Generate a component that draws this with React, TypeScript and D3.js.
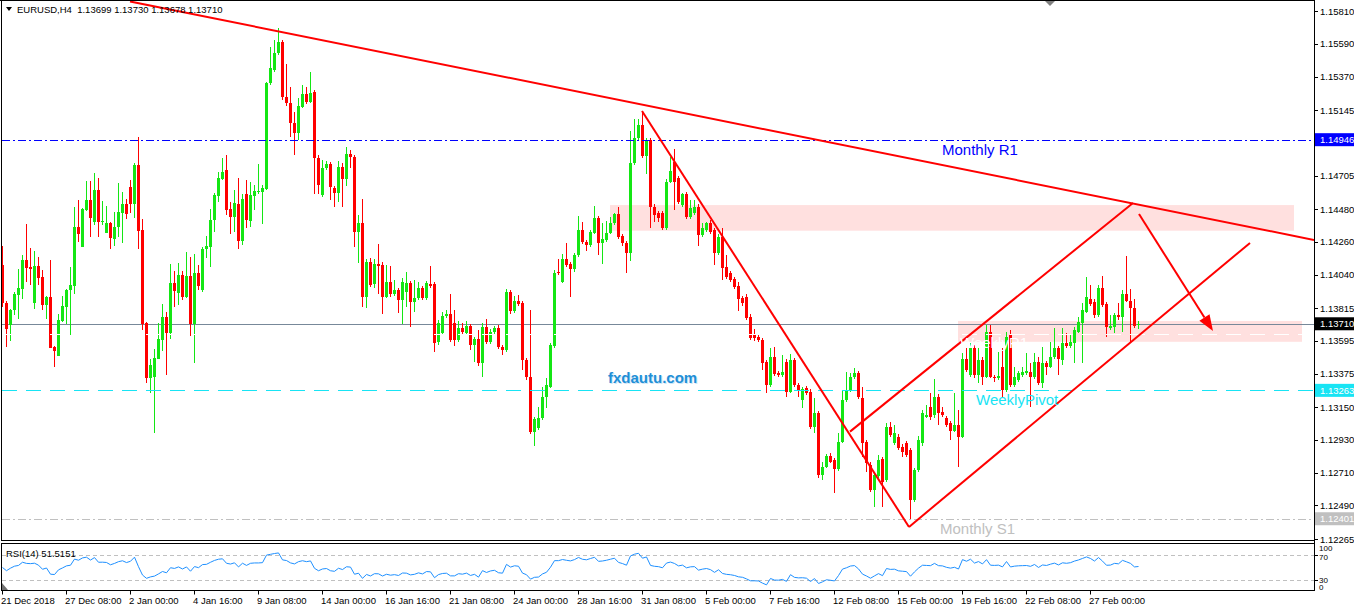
import React from "react";
import * as d3 from "d3";

// EURUSD H4, 21 Dec 2018 .. 27 Feb 2019
const opens = [
  1.14104, 1.13852, 1.137, 1.13805, 1.13904, 1.13946, 1.14138, 1.14093, 1.13852, 1.14098,
  1.14027, 1.13836, 1.13892, 1.13554, 1.13496, 1.13729, 1.13825, 1.13937, 1.13966, 1.1436,
  1.14228, 1.14474, 1.14541, 1.14395, 1.14608, 1.14394, 1.1432, 1.14387, 1.14281, 1.1436,
  1.14456, 1.14514, 1.14629, 1.14516, 1.14776, 1.1434, 1.13716, 1.13349, 1.13353, 1.13474,
  1.13604, 1.13756, 1.13648, 1.13984, 1.13915, 1.14038, 1.13892, 1.14031, 1.13711, 1.14051,
  1.13939, 1.14211, 1.14228, 1.14407, 1.1457, 1.14684, 1.14743, 1.14481, 1.14427, 1.14514,
  1.14268, 1.14582, 1.14402, 1.1457, 1.14595, 1.14595, 1.14617, 1.15327, 1.15414, 1.15528,
  1.15604, 1.15235, 1.15195, 1.15056, 1.14993, 1.15168, 1.15251, 1.15201, 1.15268, 1.14821,
  1.14575, 1.14754, 1.14783, 1.14622, 1.1459, 1.14765, 1.1468, 1.1485, 1.14828, 1.14328,
  1.14385, 1.13892, 1.14123, 1.13975, 1.14111, 1.14105, 1.13892, 1.13993, 1.13908, 1.13937,
  1.1387, 1.13926, 1.13982, 1.13858, 1.13881, 1.13948, 1.13881, 1.13977, 1.13977, 1.1359,
  1.13646, 1.13762, 1.13774, 1.13713, 1.13601, 1.13684, 1.13646, 1.13695, 1.13568, 1.13606,
  1.13445, 1.13691, 1.1359, 1.13653, 1.1368, 1.13556, 1.13534, 1.13926, 1.13796, 1.13863,
  1.13848, 1.13467, 1.13355, 1.12986, 1.13012, 1.13076, 1.1322, 1.13288, 1.13561, 1.1406,
  1.13993, 1.14143, 1.1411, 1.14076, 1.14172, 1.1434, 1.14261, 1.14239, 1.14322, 1.14418,
  1.14255, 1.14273, 1.14322, 1.14385, 1.14447, 1.143, 1.1425, 1.14187, 1.14788, 1.14955,
  1.15045, 1.14837, 1.14944, 1.14496, 1.14452, 1.14452, 1.14351, 1.14664, 1.14798, 1.14687,
  1.14507, 1.14579, 1.14429, 1.14452, 1.14496, 1.14306, 1.1434, 1.14385, 1.1434, 1.14183,
  1.14295, 1.14093, 1.14049, 1.14011, 1.13966, 1.13881, 1.13892, 1.13758, 1.13635, 1.13619,
  1.13601, 1.13452, 1.13299, 1.13486, 1.13378, 1.13366, 1.13456, 1.13254, 1.13467, 1.13299,
  1.13198, 1.13277, 1.13254, 1.13019, 1.13109, 1.12695, 1.12751, 1.12823, 1.12796, 1.12733,
  1.12918, 1.13198, 1.13266, 1.13351, 1.13378, 1.1321, 1.12918, 1.12762, 1.12594, 1.12688,
  1.128, 1.12661, 1.13019, 1.12908, 1.12952, 1.12885, 1.12908, 1.12863, 1.12527, 1.12728,
  1.12908, 1.13086, 1.13153, 1.13098, 1.1322, 1.1312, 1.13076, 1.13042, 1.12992, 1.1303,
  1.12952, 1.13473, 1.13366, 1.13545, 1.13366, 1.13467, 1.13355, 1.13657, 1.13355, 1.13344,
  1.13422, 1.13266, 1.13635, 1.13299, 1.13333, 1.13366, 1.13378, 1.13388, 1.13355, 1.13456,
  1.13311, 1.13445, 1.13422, 1.13485, 1.13545, 1.13467, 1.13579, 1.13561, 1.13579, 1.13657,
  1.13713, 1.13791, 1.13875, 1.13858, 1.13769, 1.13948, 1.13843, 1.1368, 1.13686, 1.13769,
  1.13754, 1.1391, 1.13865, 1.13814, 1.13699,
];

const highs = [
  1.14233, 1.13863, 1.13812, 1.13924, 1.14078, 1.14172, 1.1438, 1.1422, 1.14199, 1.14159,
  1.14071, 1.13897, 1.14138, 1.13561, 1.13776, 1.13899, 1.13944, 1.14091, 1.14494, 1.14541,
  1.14487, 1.14669, 1.14669, 1.14723, 1.14689, 1.14535, 1.14501, 1.14394, 1.14463, 1.14655,
  1.14595, 1.14548, 1.14676, 1.1479, 1.14966, 1.14414, 1.13722, 1.13476, 1.13541, 1.13716,
  1.13843, 1.13791, 1.14111, 1.14064, 1.14118, 1.14064, 1.14192, 1.14159, 1.14179, 1.14105,
  1.14226, 1.143, 1.14481, 1.1459, 1.14729, 1.14823, 1.14843, 1.14528, 1.14608, 1.14689,
  1.14582, 1.14676, 1.14662, 1.14642, 1.14785, 1.14642, 1.15334, 1.1557, 1.15615, 1.15694,
  1.15615, 1.15454, 1.15302, 1.15134, 1.15224, 1.15313, 1.15298, 1.15403, 1.1528, 1.14843,
  1.1481, 1.14805, 1.14796, 1.14635, 1.14803, 1.1479, 1.14899, 1.14877, 1.14843, 1.14441,
  1.14546, 1.14143, 1.1415, 1.14143, 1.14246, 1.14125, 1.14105, 1.14098, 1.14002, 1.1395,
  1.14016, 1.14056, 1.13997, 1.14004, 1.13993, 1.13964, 1.14, 1.141, 1.1399, 1.13736,
  1.13787, 1.13803, 1.1391, 1.13803, 1.13731, 1.13718, 1.13729, 1.13709, 1.13621, 1.13668,
  1.13718, 1.13741, 1.13673, 1.13695, 1.13702, 1.13568, 1.13944, 1.1394, 1.13897, 1.13904,
  1.13863, 1.1348, 1.13803, 1.13084, 1.13153, 1.13288, 1.13344, 1.13581, 1.14071, 1.14143,
  1.14179, 1.1425, 1.14125, 1.14185, 1.14434, 1.14395, 1.14273, 1.1434, 1.14501, 1.14434,
  1.14385, 1.14402, 1.14425, 1.14454, 1.14492, 1.14313, 1.14266, 1.15006, 1.15085, 1.15085,
  1.15134, 1.14957, 1.14957, 1.14514, 1.14467, 1.14467, 1.14682, 1.14832, 1.14882, 1.14702,
  1.14586, 1.14595, 1.14541, 1.14541, 1.14514, 1.14389, 1.14395, 1.14407, 1.14353, 1.14313,
  1.14351, 1.14172, 1.14064, 1.14024, 1.13993, 1.13897, 1.1391, 1.13776, 1.13673, 1.13635,
  1.13615, 1.13467, 1.13545, 1.13556, 1.13393, 1.13501, 1.13474, 1.13507, 1.1348, 1.13313,
  1.13286, 1.13293, 1.13272, 1.1321, 1.13125, 1.12784, 1.12836, 1.12845, 1.12809, 1.12975,
  1.13266, 1.13388, 1.13378, 1.13411, 1.13393, 1.13288, 1.1293, 1.12782, 1.12708, 1.12829,
  1.12816, 1.13042, 1.13053, 1.1303, 1.1297, 1.12903, 1.12923, 1.12876, 1.12742, 1.12957,
  1.13131, 1.13165, 1.13246, 1.13337, 1.13239, 1.13153, 1.13091, 1.13057, 1.13243, 1.13131,
  1.13512, 1.13545, 1.13579, 1.13568, 1.13556, 1.13487, 1.13702, 1.13702, 1.13366, 1.1352,
  1.13545, 1.13657, 1.13668, 1.13422, 1.13393, 1.13422, 1.13512, 1.13445, 1.13512, 1.13489,
  1.13556, 1.1346, 1.1359, 1.1368, 1.13561, 1.1368, 1.13646, 1.13635, 1.13689, 1.13757,
  1.13848, 1.14026, 1.1397, 1.13877, 1.1397, 1.14031, 1.13856, 1.13769, 1.13783, 1.13848,
  1.13937, 1.14168, 1.13946, 1.13875, 1.1373,
];

const lows = [
  1.13823, 1.13554, 1.13596, 1.1377, 1.13743, 1.13879, 1.1399, 1.1397, 1.1381, 1.1397,
  1.13803, 1.13743, 1.13548, 1.1342, 1.13494, 1.13722, 1.13711, 1.13635, 1.1391, 1.14259,
  1.14226, 1.14467, 1.14295, 1.14373, 1.14295, 1.14373, 1.14318, 1.14212, 1.14234, 1.14295,
  1.1425, 1.14414, 1.14454, 1.14422, 1.14214, 1.13668, 1.13311, 1.13244, 1.12975, 1.13474,
  1.13528, 1.13366, 1.13608, 1.13825, 1.13836, 1.1387, 1.13883, 1.1363, 1.13449, 1.13937,
  1.13924, 1.14152, 1.14091, 1.14328, 1.14528, 1.14676, 1.1444, 1.14315, 1.14326, 1.14214,
  1.14239, 1.14353, 1.14362, 1.14474, 1.14582, 1.1438, 1.14608, 1.15313, 1.15401, 1.15515,
  1.15213, 1.15173, 1.14966, 1.14843, 1.14944, 1.15159, 1.15186, 1.15193, 1.14579, 1.14579,
  1.14561, 1.14743, 1.14541, 1.14496, 1.1453, 1.14496, 1.14637, 1.14758, 1.14228, 1.14116,
  1.13825, 1.13814, 1.13959, 1.1395, 1.1391, 1.13774, 1.13883, 1.1389, 1.13897, 1.13785,
  1.13707, 1.13825, 1.1369, 1.13792, 1.1387, 1.1387, 1.1387, 1.1395, 1.13523, 1.13568,
  1.13635, 1.13749, 1.13588, 1.13561, 1.13588, 1.13641, 1.13635, 1.13534, 1.13456, 1.13427,
  1.13355, 1.13575, 1.13575, 1.13641, 1.13541, 1.13501, 1.13521, 1.13776, 1.13783, 1.1383,
  1.134, 1.13333, 1.12971, 1.12888, 1.12997, 1.13064, 1.13142, 1.13279, 1.13548, 1.14038,
  1.13984, 1.14091, 1.13892, 1.1406, 1.14159, 1.14246, 1.14201, 1.14226, 1.14313, 1.14172,
  1.1411, 1.14259, 1.14313, 1.14373, 1.14279, 1.14233, 1.14053, 1.14134, 1.14776, 1.14944,
  1.14823, 1.14716, 1.14351, 1.14395, 1.14393, 1.1434, 1.1434, 1.14655, 1.14474, 1.14514,
  1.14494, 1.14414, 1.14414, 1.1444, 1.14234, 1.14293, 1.14326, 1.14313, 1.14105, 1.14172,
  1.14004, 1.14011, 1.1399, 1.13944, 1.13798, 1.1383, 1.13736, 1.13601, 1.13594, 1.13588,
  1.134, 1.13244, 1.13286, 1.1336, 1.13353, 1.13353, 1.13221, 1.13244, 1.13286, 1.13221,
  1.13142, 1.13232, 1.13004, 1.12977, 1.12675, 1.12661, 1.12742, 1.12775, 1.12572, 1.12722,
  1.1291, 1.13185, 1.13252, 1.13339, 1.13205, 1.12817, 1.12717, 1.12581, 1.12482, 1.12675,
  1.12482, 1.12648, 1.1295, 1.12896, 1.12863, 1.12818, 1.12816, 1.12393, 1.12514, 1.12715,
  1.1289, 1.13078, 1.13064, 1.13078, 1.1303, 1.13084, 1.13017, 1.1293, 1.12983, 1.12751,
  1.12943, 1.13386, 1.13353, 1.13346, 1.13311, 1.13299, 1.13346, 1.13346, 1.13321, 1.13333,
  1.13221, 1.13252, 1.13286, 1.13286, 1.13319, 1.13353, 1.13366, 1.13153, 1.13339, 1.13299,
  1.13277, 1.13366, 1.13413, 1.13474, 1.13366, 1.13433, 1.13548, 1.13548, 1.13445, 1.13648,
  1.13445, 1.13783, 1.1383, 1.13747, 1.13756, 1.13823, 1.13619, 1.13668, 1.13646, 1.13736,
  1.13657, 1.13856, 1.1359, 1.13682, 1.13678,
];

const closes = [
  1.13852, 1.13674, 1.13803, 1.1391, 1.1395, 1.14138, 1.14086, 1.14076, 1.14098, 1.1402,
  1.13836, 1.13892, 1.1355, 1.1353, 1.13736, 1.1383, 1.13937, 1.13971, 1.1436, 1.14311,
  1.14483, 1.14541, 1.14422, 1.14608, 1.14395, 1.144, 1.14387, 1.14284, 1.1436, 1.14461,
  1.14514, 1.14445, 1.14516, 1.14776, 1.14335, 1.13707, 1.13349, 1.13434, 1.1348, 1.13608,
  1.13756, 1.13648, 1.13984, 1.13932, 1.14038, 1.13892, 1.14031, 1.13711, 1.14049, 1.13966,
  1.14213, 1.14233, 1.14407, 1.14575, 1.14689, 1.14729, 1.14474, 1.14427, 1.14521, 1.14268,
  1.14548, 1.14407, 1.14575, 1.14602, 1.14602, 1.14622, 1.15325, 1.15427, 1.15528, 1.15604,
  1.15235, 1.15195, 1.15056, 1.14993, 1.15172, 1.15251, 1.15201, 1.15257, 1.14821, 1.14642,
  1.14756, 1.14783, 1.14631, 1.1459, 1.14765, 1.14682, 1.14848, 1.14828, 1.14328, 1.14385,
  1.13892, 1.14123, 1.1397, 1.14111, 1.141, 1.13892, 1.13993, 1.13908, 1.13937, 1.1387,
  1.13993, 1.13982, 1.13858, 1.13885, 1.13948, 1.13881, 1.13982, 1.13966, 1.13579, 1.13713,
  1.13762, 1.13774, 1.13601, 1.13601, 1.13684, 1.13657, 1.13695, 1.13568, 1.13606, 1.13445,
  1.13691, 1.1359, 1.13653, 1.1368, 1.13556, 1.13534, 1.13926, 1.13796, 1.13863, 1.13843,
  1.13467, 1.13355, 1.12986, 1.13069, 1.1308, 1.1322, 1.13299, 1.13568, 1.14049, 1.14049,
  1.14143, 1.14105, 1.14076, 1.14172, 1.1434, 1.14261, 1.14239, 1.14328, 1.14418, 1.14255,
  1.14277, 1.14322, 1.14385, 1.14447, 1.14295, 1.1425, 1.14187, 1.14788, 1.14955, 1.15045,
  1.14837, 1.14944, 1.14496, 1.1444, 1.14418, 1.14351, 1.14664, 1.14738, 1.14664, 1.1453,
  1.14579, 1.14429, 1.14485, 1.14496, 1.14306, 1.14355, 1.14385, 1.14328, 1.14183, 1.14295,
  1.14083, 1.14027, 1.14004, 1.13959, 1.13877, 1.13848, 1.13747, 1.13613, 1.13613, 1.13601,
  1.13445, 1.13299, 1.13486, 1.13373, 1.13366, 1.13388, 1.13254, 1.13467, 1.13299, 1.13266,
  1.1327, 1.13243, 1.13019, 1.13109, 1.12695, 1.12751, 1.12823, 1.12784, 1.12733, 1.12918,
  1.13198, 1.13266, 1.13355, 1.13378, 1.13221, 1.12908, 1.12773, 1.12594, 1.12695, 1.12796,
  1.1265, 1.13019, 1.12963, 1.12975, 1.12874, 1.12851, 1.12829, 1.12527, 1.12728, 1.1293,
  1.13109, 1.13098, 1.13086, 1.1322, 1.13109, 1.13098, 1.1303, 1.12992, 1.1303, 1.12952,
  1.13473, 1.134, 1.13545, 1.13366, 1.13467, 1.13355, 1.13657, 1.13355, 1.13344, 1.1336,
  1.13266, 1.13623, 1.13299, 1.13355, 1.13378, 1.13388, 1.13395, 1.13355, 1.13456, 1.13311,
  1.13445, 1.13422, 1.13489, 1.13545, 1.13472, 1.13579, 1.13561, 1.1359, 1.13668, 1.13724,
  1.13803, 1.13888, 1.13843, 1.13769, 1.13948, 1.13836, 1.13686, 1.13695, 1.13769, 1.13754,
  1.1391, 1.13865, 1.13814, 1.13695, 1.1371,
];

const timeLabels = [
  "21 Dec 2018", "27 Dec 08:00", "2 Jan 00:00", "4 Jan 16:00", "9 Jan 08:00", "14 Jan 00:00",
  "16 Jan 16:00", "21 Jan 08:00", "24 Jan 00:00", "28 Jan 16:00", "31 Jan 08:00", "5 Feb 00:00",
  "7 Feb 16:00", "12 Feb 08:00", "15 Feb 00:00", "19 Feb 16:00", "22 Feb 08:00", "27 Feb 00:00",
];
const barsPerLabel = 16;

// 1.14925 sits under the R1 price tag, so only its tick is drawn
const priceTicks = [
  1.1581, 1.1559, 1.1537, 1.15145, 1.14925, 1.14705, 1.1448, 1.1426, 1.1404,
  1.13815, 1.13595, 1.13375, 1.1315, 1.1293, 1.1271, 1.1249, 1.12265,
];

// levels drawn on the chart
const monthlyR1 = 1.14946;
const weeklyR1 = 1.1364;
const weeklyPivot = 1.13263;
const monthlyS1 = 1.12401;
const lastPrice = 1.1371;

// trend lines as [bar index, price] pairs
const trendLines: [number, number][][] = [
  [[32, 1.15874], [328, 1.14273]],
  [[160, 1.15139], [226.75, 1.12346]],
  [[226.75, 1.12346], [312, 1.14253]],
  [[212, 1.12986], [282.75, 1.14521]],
];
const arrowLine: [number, number][] = [[284.25, 1.14447], [302.75, 1.13661]];

const zones = [
  { from: 152, to: 323, top: 1.14507, bottom: 1.14335 },
  { from: 239, to: 325, top: 1.13729, bottom: 1.13589 },
];

const rsiLevels = [70, 30];

const FONT = "'Liberation Sans', Arial, sans-serif";

// Wilder RSI; the averages start from an even seed because the
// bars before 21 Dec are not part of the chart
function calcRsi(values: number[], period: number) {
  const out: number[] = [50];
  let ag = 0.0006;
  let al = 0.0006;
  for (let i = 1; i < values.length; i++) {
    const ch = values[i] - values[i - 1];
    ag = (ag * (period - 1) + Math.max(ch, 0)) / period;
    al = (al * (period - 1) + Math.max(-ch, 0)) / period;
    out.push(al === 0 ? 100 : 100 - 100 / (1 + ag / al));
  }
  return out;
}

const App = () => {
  const W = 1354;
  const H = 606;
  const right = 1314;
  const mainBottom = 540.5;
  const rsiTop = 543.5;
  const rsiBottom = 590.5;

  const x = d3.scaleLinear().domain([0, closes.length - 1]).range([2, 1138]);
  const y = d3.scaleLinear().domain([1.12265, 1.1581]).range([539, 11]);
  const yr = d3.scaleLinear().domain([30, 70]).range([580, 555]);

  const rsi = calcRsi(closes, 14);
  const rsiPath = d3
    .line<number>()
    .x((_, i) => x(i) + 0.5)
    .y((d) => Math.max(rsiTop + 2, Math.min(rsiBottom - 2, yr(d))))(rsi);

  const bull = "#14e614";
  const bear = "#ff0000";

  // arrow head
  const ax1 = x(arrowLine[0][0]);
  const ay1 = y(arrowLine[0][1]);
  const ax2 = x(arrowLine[1][0]);
  const ay2 = y(arrowLine[1][1]);
  const len = Math.hypot(ax2 - ax1, ay2 - ay1);
  const ux = (ax2 - ax1) / len;
  const uy = (ay2 - ay1) / len;
  const hb = 16;
  const hw = 6;
  const bx = ax2 - ux * hb;
  const by = ay2 - uy * hb;
  const head = `M${ax2},${ay2} L${bx - uy * hw},${by + ux * hw} L${bx + uy * hw},${by - ux * hw} Z`;

  const levelBoxes = [
    { v: monthlyR1, bg: "#0000ff" },
    { v: lastPrice, bg: "#000000" },
    { v: weeklyPivot, bg: "#18e4f4" },
    { v: monthlyS1, bg: "#c0c0c0" },
  ];
  const hidden = (p: number) => levelBoxes.some((b) => Math.abs(y(b.v) - y(p)) < 6);

  return (
    <svg
      width={W}
      height={H}
      style={{ position: "absolute", left: 0, top: 0, background: "#fff" }}
      fontFamily={FONT}
    >
      <defs>
        <clipPath id="plot">
          <rect x={2} y={1} width={right - 2} height={mainBottom - 1} />
        </clipPath>
      </defs>
      <rect width={W} height={H} fill="#fff" />

      {/* zones */}
      <g clipPath="url(#plot)">
        {zones.map((z, i) => (
          <rect
            key={i}
            x={x(z.from)}
            y={y(z.top)}
            width={x(z.to) - x(z.from)}
            height={y(z.bottom) - y(z.top)}
            fill="#ffe0df"
          />
        ))}
      </g>

      {/* bid line */}
      <line x1={2} x2={right} y1={Math.round(y(lastPrice)) + 0.5} y2={Math.round(y(lastPrice)) + 0.5} stroke="#778899" />

      {/* candles */}
      <g shapeRendering="crispEdges">
        {closes.map((c, i) => {
          const o = opens[i];
          const cx = Math.round(x(i));
          const col = c >= o ? bull : bear;
          const top = Math.round(y(Math.max(o, c)));
          const bot = Math.round(y(Math.min(o, c)));
          return (
            <g key={i}>
              <rect x={cx} y={Math.round(y(highs[i]))} width={1} height={Math.max(1, Math.round(y(lows[i])) - Math.round(y(highs[i])))} fill={col} />
              <rect x={cx - 1} y={top} width={3} height={Math.max(1, bot - top)} fill={col} />
            </g>
          );
        })}
      </g>

      {/* horizontal levels */}
      <g clipPath="url(#plot)" shapeRendering="crispEdges">
        <line x1={2} x2={right} y1={Math.round(y(monthlyR1)) + 0.5} y2={Math.round(y(monthlyR1)) + 0.5} stroke="#0000ff" strokeDasharray="8,3,2,3" />
        <line x1={2} x2={right} y1={Math.round(y(weeklyR1)) + 0.5} y2={Math.round(y(weeklyR1)) + 0.5} stroke="#ffffff" strokeDasharray="15,9" />
        <line x1={2} x2={right} y1={Math.round(y(weeklyPivot)) + 0.5} y2={Math.round(y(weeklyPivot)) + 0.5} stroke="#18e4f4" strokeDasharray="15,9" />
        <line x1={2} x2={right} y1={Math.round(y(monthlyS1)) + 0.5} y2={Math.round(y(monthlyS1)) + 0.5} stroke="#c0c0c0" strokeDasharray="8,3,2,3" />
      </g>

      {/* trend lines */}
      <g clipPath="url(#plot)">
        {trendLines.map((t, i) => (
          <line key={i} x1={x(t[0][0])} y1={y(t[0][1])} x2={x(t[1][0])} y2={y(t[1][1])} stroke="#ff0000" strokeWidth={2} />
        ))}
        <line x1={ax1} y1={ay1} x2={bx} y2={by} stroke="#ff0000" strokeWidth={2} />
        <path d={head} fill="#ff0000" />
      </g>

      {/* level texts */}
      <text x={942} y={155} fontSize={15} fill="#0000ff">Monthly R1</text>
      <text x={960} y={348} fontSize={15} fill="#ffffff">WeeklyR1</text>
      <text x={976} y={405} fontSize={15} fill="#18e4f4">WeeklyPivot</text>
      <text x={940} y={534} fontSize={15} fill="#c0c0c0">Monthly S1</text>
      <text x={609} y={384} fontSize={15} fontWeight="bold" fill="#cfe6f6">fxdautu.com</text>
      <text x={608} y={383} fontSize={15} fontWeight="bold" fill="#1f8fd6">fxdautu.com</text>

      {/* header */}
      <path d="M6,7 L12,7 L9,11 Z" fill="#000" />
      <text x={17} y={13} fontSize={9.5} fill="#000" style={{ whiteSpace: "pre" }}>
        {"EURUSD,H4  1.13699 1.13730 1.13678 1.13710"}
      </text>
      <path d="M1044,0 L1056,0 L1050,6 Z" fill="#808080" />

      {/* frames */}
      <g fill="none" stroke="#000" shapeRendering="crispEdges">
        <line x1={0} x2={right + 1} y1={0.5} y2={0.5} />
        <line x1={1.5} x2={1.5} y1={0} y2={mainBottom} />
        <line x1={right + 0.5} x2={right + 0.5} y1={0} y2={rsiBottom} />
        <line x1={1} x2={right + 1} y1={mainBottom} y2={mainBottom} />
        <rect x={1.5} y={rsiTop} width={right - 1} height={rsiBottom - rsiTop} />
      </g>

      {/* right price axis */}
      <g fontSize={9.5} fill="#000">
        {priceTicks.map((p) => (
          <g key={p}>
            <line x1={right} x2={right + 4} y1={Math.round(y(p)) + 0.5} y2={Math.round(y(p)) + 0.5} stroke="#000" />
            {!hidden(p) && <text x={1320} y={y(p) + 3.5}>{p.toFixed(5)}</text>}
          </g>
        ))}
      </g>
      {levelBoxes.map((b) => (
        <g key={b.v}>
          <rect x={right + 1} y={y(b.v) - 6.5} width={W - right - 1} height={13} fill={b.bg} />
          <text x={1320} y={y(b.v) + 3.5} fontSize={9.5} fill="#fff">{b.v.toFixed(5)}</text>
        </g>
      ))}

      {/* RSI panel */}
      <g shapeRendering="crispEdges">
        {rsiLevels.map((l) => (
          <line key={l} x1={2} x2={right} y1={Math.round(yr(l)) + 0.5} y2={Math.round(yr(l)) + 0.5} stroke="#c0c0c0" strokeDasharray="4,3" />
        ))}
      </g>
      <path d={rsiPath || ""} fill="none" stroke="#1e90ff" strokeWidth={1} />
      <text x={6} y={557} fontSize={9.5} fill="#000">RSI(14) 51.5151</text>
      <path d="M2,583 L2,590 L8,590 Z" fill="#707070" />
      <g fontSize={8} fill="#000">
        <text x={1319} y={551}>100</text>
        <text x={1319} y={yr(70) + 4.5}>70</text>
        <text x={1319} y={yr(30) + 2.5}>30</text>
        <text x={1319} y={589.5}>0</text>
        <line x1={right} x2={right + 4} y1={Math.round(yr(70)) + 0.5} y2={Math.round(yr(70)) + 0.5} stroke="#000" />
        <line x1={right} x2={right + 4} y1={Math.round(yr(30)) + 0.5} y2={Math.round(yr(30)) + 0.5} stroke="#000" />
      </g>

      {/* time axis */}
      <g fontSize={9.5} fill="#000">
        {timeLabels.map((t, k) => {
          const tx = Math.round(x(k * barsPerLabel));
          return (
            <g key={t}>
              <line x1={tx + 0.5} x2={tx + 0.5} y1={rsiBottom} y2={rsiBottom + 4} stroke="#000" />
              <text x={tx - 1} y={604}>{t}</text>
            </g>
          );
        })}
      </g>
    </svg>
  );
};

export default App;
